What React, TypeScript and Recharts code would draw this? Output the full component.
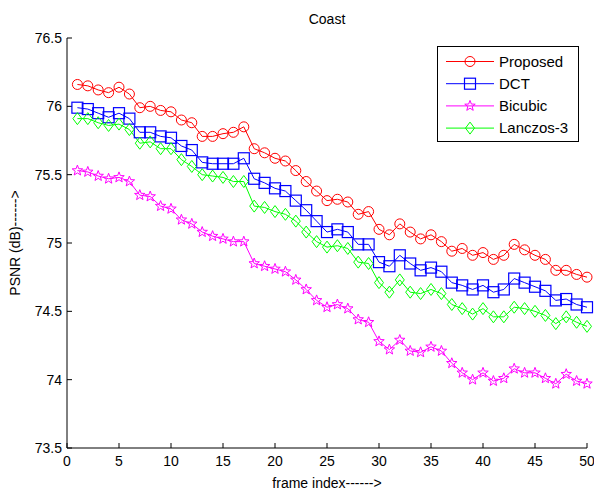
import React from 'react';
import { LineChart, Line, XAxis, YAxis } from 'recharts';

const frames = [
  1, 2, 3, 4, 5, 6, 7, 8, 9, 10, 11, 12, 13, 14, 15, 16, 17, 18, 19, 20, 21, 22, 23, 24, 25,
  26, 27, 28, 29, 30, 31, 32, 33, 34, 35, 36, 37, 38, 39, 40, 41, 42, 43, 44, 45, 46, 47, 48, 49, 50,
];

const proposed = [
  76.16, 76.15, 76.12, 76.1, 76.14, 76.09, 75.99, 76.0, 75.97, 75.96, 75.9, 75.88, 75.78, 75.78, 75.8, 75.81, 75.85,
  75.69, 75.66, 75.62, 75.6, 75.53, 75.45, 75.38, 75.31, 75.32, 75.3, 75.21, 75.23, 75.1, 75.06, 75.14, 75.08,
  75.03, 75.06, 75.01, 74.94, 74.96, 74.91, 74.93, 74.88, 74.91, 74.99, 74.95, 74.91, 74.88, 74.8, 74.8, 74.77, 74.75,
];
const dct = [
  75.99, 75.98, 75.95, 75.92, 75.95, 75.91, 75.81, 75.81, 75.78, 75.77, 75.71, 75.68, 75.59, 75.58, 75.58, 75.58, 75.62,
  75.47, 75.44, 75.4, 75.38, 75.31, 75.24, 75.16, 75.08, 75.1, 75.08, 74.99, 74.99, 74.86, 74.83, 74.91, 74.85,
  74.8, 74.82, 74.79, 74.71, 74.69, 74.66, 74.69, 74.64, 74.66, 74.74, 74.71, 74.68, 74.65, 74.58, 74.59, 74.55, 74.53,
];
const bicubic = [
  75.53, 75.52, 75.49, 75.47, 75.48, 75.45, 75.35, 75.34, 75.27, 75.25, 75.17, 75.14, 75.08, 75.05, 75.03, 75.01, 75.01,
  74.85, 74.83, 74.81, 74.79, 74.73, 74.66, 74.58, 74.53, 74.55, 74.52, 74.44, 74.42, 74.28, 74.22, 74.29, 74.21,
  74.2, 74.24, 74.21, 74.12, 74.05, 74.0, 74.05, 73.99, 74.01, 74.08, 74.05, 74.05, 74.01, 73.97, 74.04, 73.99, 73.97,
];
const lanczos = [
  75.91, 75.91, 75.88, 75.86, 75.87, 75.83, 75.73, 75.74, 75.69, 75.69, 75.61, 75.56, 75.5, 75.49, 75.48, 75.45, 75.45,
  75.27, 75.26, 75.23, 75.21, 75.16, 75.08, 75.01, 74.97, 74.98, 74.96, 74.86, 74.85, 74.71, 74.64, 74.73, 74.64,
  74.63, 74.66, 74.63, 74.55, 74.52, 74.48, 74.52, 74.46, 74.46, 74.53, 74.52, 74.5, 74.47, 74.41, 74.46, 74.42, 74.39,
];

const xTicks = [0, 5, 10, 15, 20, 25, 30, 35, 40, 45, 50];
const yTicks = [73.5, 74, 74.5, 75, 75.5, 76, 76.5];

const data = frames.map((f, i) => ({
  frame: f,
  proposed: proposed[i],
  dct: dct[i],
  bicubic: bicubic[i],
  lanczos: lanczos[i],
}));

const FONT = '"Liberation Sans", Arial, Helvetica, sans-serif';

type Shape = 'circle' | 'square' | 'star' | 'diamond';

function marker(shape: Shape, color: string, cx: number, cy: number, key?: React.Key) {
  if (shape === 'circle') {
    return <circle key={key} cx={cx} cy={cy} r={5} fill="none" stroke={color} strokeWidth={1} />;
  }
  if (shape === 'square') {
    return <rect key={key} x={cx - 5.5} y={cy - 5.5} width={11} height={11} fill="none" stroke={color} strokeWidth={1.2} />;
  }
  if (shape === 'diamond') {
    const pts = `${cx},${cy - 6} ${cx + 4.5},${cy} ${cx},${cy + 6} ${cx - 4.5},${cy}`;
    return <polygon key={key} points={pts} fill="none" stroke={color} strokeWidth={1} />;
  }
  const pts: string[] = [];
  for (let k = 0; k < 10; k++) {
    const r = k % 2 === 0 ? 5.5 : 2.3;
    const a = -Math.PI / 2 + (k * Math.PI) / 5;
    pts.push(`${cx + r * Math.cos(a)},${cy + r * Math.sin(a)}`);
  }
  return <polygon key={key} points={pts.join(' ')} fill="none" stroke={color} strokeWidth={1} />;
}

const series: { key: string; name: string; color: string; shape: Shape }[] = [
  { key: 'proposed', name: 'Proposed', color: '#ff0000', shape: 'circle' },
  { key: 'dct', name: 'DCT', color: '#0000ff', shape: 'square' },
  { key: 'bicubic', name: 'Bicubic', color: '#ff00ff', shape: 'star' },
  { key: 'lanczos', name: 'Lanczos-3', color: '#00ff00', shape: 'diamond' },
];

// legend sits inside the axes box, top right, like matlab's default
function LegendBox() {
  return (
    <div
      style={{
        position: 'absolute',
        left: 437,
        top: 46,
        width: 142,
        height: 96,
        border: '1px solid #000',
        background: '#fff',
        boxSizing: 'border-box',
      }}
    >
      <svg width={140} height={94} style={{ display: 'block' }}>
        {series.map((s, i) => {
          const y = 14.5 + i * 22.2;
          return (
            <g key={s.key}>
              <line x1={8} x2={56} y1={y} y2={y} stroke={s.color} strokeWidth={1} />
              {marker(s.shape, s.color, 32, y)}
              <text x={61} y={y + 5} fontSize={15} fontFamily={FONT} fill="#000">
                {s.name}
              </text>
            </g>
          );
        })}
      </svg>
    </div>
  );
}

export default function App() {
  return (
    <div style={{ position: 'absolute', left: 0, top: 0, width: 594, height: 494, background: '#fff', fontFamily: FONT }}>
      <div style={{ position: 'absolute', left: 67, top: 11, width: 520, textAlign: 'center', fontSize: 14, lineHeight: '16px' }}>
        Coast
      </div>
      <LineChart width={594} height={494} data={data} margin={{ top: 38, right: 7, bottom: 0, left: 0 }}>
        <XAxis
          xAxisId="bottom"
          dataKey="frame"
          type="number"
          domain={[0, 50]}
          ticks={xTicks}
          height={46}
          tickSize={-5}
          tickMargin={13}
          stroke="#000"
          tick={{ fill: '#000', fontSize: 14, fontFamily: FONT }}
        />
        <XAxis
          xAxisId="top"
          orientation="top"
          dataKey="frame"
          type="number"
          domain={[0, 50]}
          ticks={xTicks}
          height={0}
          tickSize={-5}
          stroke="#000"
          tick={false}
        />
        <YAxis
          yAxisId="left"
          type="number"
          domain={[73.5, 76.5]}
          ticks={yTicks}
          width={67}
          tickSize={-5}
          tickMargin={10}
          stroke="#000"
          tick={{ fill: '#000', fontSize: 14, fontFamily: FONT }}
        />
        <YAxis
          yAxisId="right"
          orientation="right"
          type="number"
          domain={[73.5, 76.5]}
          ticks={yTicks}
          width={0}
          tickSize={-5}
          stroke="#000"
          tick={false}
        />
        {series.map((s) => (
          <Line
            key={s.key}
            xAxisId="bottom"
            yAxisId="left"
            type="linear"
            dataKey={s.key}
            name={s.name}
            stroke={s.color}
            strokeWidth={1}
            isAnimationActive={false}
            dot={(p: any) => marker(s.shape, s.color, p.cx, p.cy, `${s.key}-${p.index}`)}
            activeDot={false}
          />
        ))}
      </LineChart>
      <LegendBox />
      <div style={{ position: 'absolute', left: 67, top: 475, width: 520, textAlign: 'center', fontSize: 14, lineHeight: '16px' }}>
        frame index------&gt;
      </div>
      <div
        style={{
          position: 'absolute',
          left: 15,
          top: 243,
          transform: 'translate(-50%, -50%) rotate(-90deg)',
          whiteSpace: 'nowrap',
          fontSize: 14,
          lineHeight: '16px',
        }}
      >
        PSNR (dB)------&gt;
      </div>
    </div>
  );
}
